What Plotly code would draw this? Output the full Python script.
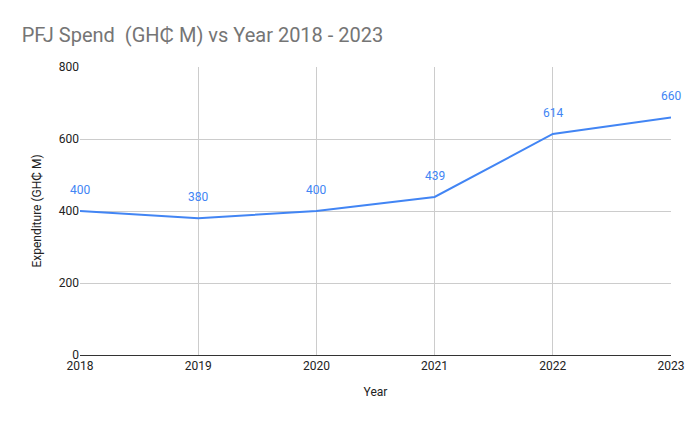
import plotly.graph_objects as go

years = [2018, 2019, 2020, 2021, 2022, 2023]
spend = [400, 380, 400, 439, 614, 660]

fig = go.Figure()
fig.add_trace(go.Scatter(x=years, y=spend, mode="lines",
                         line=dict(color="#4285F4", width=2), hoverinfo="skip"))
for x, y in zip(years, spend):
    fig.add_annotation(x=x, y=y, text=str(y), showarrow=False, yshift=21,
                       font=dict(color="#4285F4", size=12))

fig.update_layout(
    width=688, height=422, paper_bgcolor="white", plot_bgcolor="white",
    font=dict(family="Roboto, Arial", color="#222"),
    title=dict(text="PFJ Spend  (GH₵ M) vs Year 2018 - 2023", x=0.02, y=0.936,
               xanchor="left", yanchor="middle", font=dict(size=20, color="#757575")),
    margin=dict(l=72, r=22, t=59, b=75),
    showlegend=False,
    xaxis=dict(range=[2018, 2023], tickvals=years, showgrid=True, gridcolor="#cccccc",
               showline=True, linecolor="#333", ticks="", tickfont=dict(size=12),
               title=dict(text="Year", font=dict(size=12)), zeroline=False),
    yaxis=dict(range=[0, 800], tickvals=[0, 200, 400, 600, 800], showgrid=True,
               gridcolor="#cccccc", ticks="", tickfont=dict(size=12), zeroline=False,
               title=dict(text="Expenditure (GH₵ M)", font=dict(size=12), standoff=14)),
)
fig.write_html("out.html")
